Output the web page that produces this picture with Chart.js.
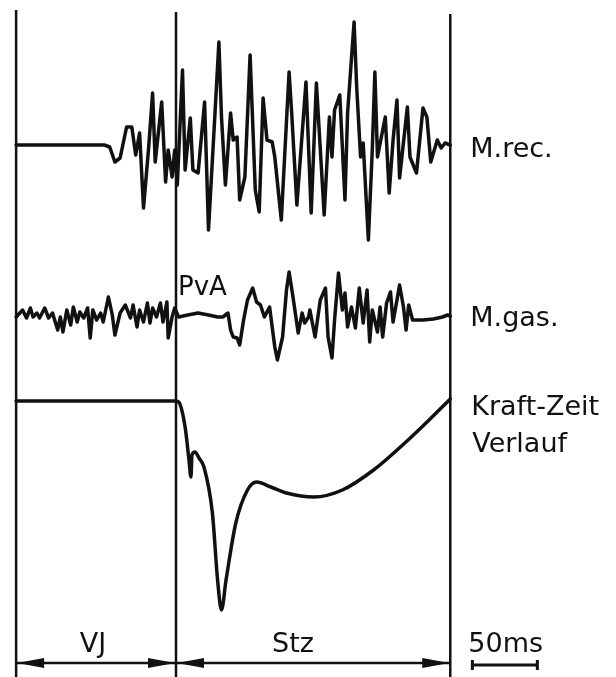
<!DOCTYPE html>
<html lang="de">
<head>
    <meta charset="UTF-8">
    <title>EMG M.rec. / M.gas. und Kraft-Zeit Verlauf</title>
    <script src="https://cdn.jsdelivr.net/npm/chart.js"></script>
    <style>
        html, body { margin: 0; padding: 0; background: #fff; }
        .chart-container { position: relative; width: 616px; height: 677px; }
    </style>
</head>
<body>
    <div class="chart-container">
        <canvas id="emgChart"></canvas>
    </div>

    <script>
        // time in ms, 0 = touchdown (start of Stz); amplitudes relative to each trace's baseline
        const phaseBounds = [-123, 0, 211];
        const phaseLabels = ['VJ', 'Stz'];
        const traceLabels = ['M.rec.', 'M.gas.', 'Kraft-Zeit', 'Verlauf'];
        const scaleBarMs = 50;

        const recTime = [-123, -55, -51, -47, -43, -38, -34, -31, -28, -25, -21, -18, -16, -11, -8,
            -6, -3, -1, 1, 5, 7, 11, 13, 17, 22, 25, 30, 33, 35, 38, 42, 44, 47, 49, 53,
            57, 61, 64, 67, 70, 74, 76, 81, 87, 89, 93, 100, 104, 108, 114, 118, 120, 122, 126, 130,
            132, 137, 139, 142, 144, 148, 151, 153, 155, 161, 164, 167, 170, 172, 178,
            180, 185, 190, 193, 196, 201, 204, 207, 211];
        const recAmp = [0, 0, -2, -17, -13, 18, 18, -10, 12, -63, -2, 52, -17, 43, -37,
            -5, -32, -5, -40, 75, -25, 27, -25, -28, 43, -85, 32, 103, 28, -40, 32, 5, 8, -55, -32,
            90, -45, -67, 47, 5, 3, -12, -75, 73, 32, -60, 63, -68, 62, -70, 28, -12, 35, 50, -55,
            32, 123, 58, -12, 2, -95, -5, 73, -12, 28, -48, 5, 45, -33, 38,
            -12, -28, 37, 28, -17, 5, -3, 2, 0];

        const gasTime = [-123, -118, -115, -112, -110, -107, -105, -101, -98, -95, -91, -89, -87, -84, -81,
            -79, -76, -74, -71, -68, -66, -64, -61, -58, -56, -52, -49, -47, -43, -39,
            -35, -33, -30, -28, -25, -22, -20, -18, -15, -12, -10, -7, -6, -3, -1,
            2, 9, 17, 25, 32, 36, 40, 42, 44, 47, 49, 52, 55, 59, 62,
            65, 68, 72, 76, 78, 82, 85, 87, 90, 94, 97, 99, 102, 103, 107,
            111, 115, 117, 120, 122, 125, 128, 130, 132, 135, 138, 141, 144, 147, 149,
            151, 155, 157, 159, 162, 165, 167, 170, 172, 175, 177, 179, 182, 190, 198,
            205, 209, 211];
        const gasAmp = [0, 7, -1, 9, 0, 4, -1, 9, -1, 4, -13, 0, -15, 7, -8,
            10, -5, 5, -1, 9, -21, 7, -3, 4, -5, 20, 2, -18, 4, 12,
            -1, 12, -10, 7, -5, 14, -6, 9, 0, 14, -5, 15, -21, 0, 9,
            0, 2, 4, 2, 0, 0, 4, -13, -20, -21, -28, -3, 17, 29, 15,
            12, 0, 10, -30, -43, -20, 27, 45, 20, -16, 4, -6, 0, 7, -20,
            17, 29, -20, -41, -3, 44, 7, 24, -10, 10, -11, 29, -6, 27, -25,
            7, -15, 10, -20, 14, 25, -5, 17, 32, 10, -13, 12, -3, -3, -2,
            0, 2, 1];

        const forceTime = [-123, -1, 2, 7, 10, 11.5, 12.3, 14.6, 17.7, 21.5, 28, 32, 35, 38.5, 46,
            55, 62, 73, 85, 106, 128, 152, 176, 197, 211];
        const forceAmp = [0, 0, -1, -26, -59, -76, -54, -51, -57, -66, -112, -179, -209, -179, -122,
            -89, -81, -86, -92, -96, -89, -69, -42, -16, 2];

        // vertical placement of the three traces on the page
        const laneBase = { rec: 532, gas: 360, force: 276 };
        const ink = '#111';
        const font = '27px "DejaVu Sans"';

        function toPoints(times, amps, base) {
            return times.map((t, i) => ({ x: t, y: base + amps[i] }));
        }

        function arrowHead(ctx, tipX, y, dir) {
            ctx.beginPath();
            ctx.moveTo(tipX, y);
            ctx.lineTo(tipX - dir * 27, y - 5);
            ctx.lineTo(tipX - dir * 27, y + 5);
            ctx.closePath();
            ctx.fill();
        }

        const annotations = {
            id: 'annotations',
            afterDatasetsDraw(chart) {
                const ctx = chart.ctx;
                const xs = chart.scales.x;
                const ys = chart.scales.y;
                const area = chart.chartArea;
                const bx = phaseBounds.map(t => xs.getPixelForValue(t));
                const tops = [10, 12, 14];

                ctx.save();
                ctx.strokeStyle = ink;
                ctx.fillStyle = ink;

                // phase boundary lines
                ctx.lineWidth = 2.5;
                bx.forEach((px, i) => {
                    ctx.beginPath();
                    ctx.moveTo(px, tops[i]);
                    ctx.lineTo(px, area.bottom);
                    ctx.stroke();
                });

                // phase arrows
                const arrowY = area.bottom - 14;
                ctx.lineWidth = 2.5;
                for (let i = 0; i < 2; i++) {
                    ctx.beginPath();
                    ctx.moveTo(bx[i], arrowY);
                    ctx.lineTo(bx[i + 1], arrowY);
                    ctx.stroke();
                    arrowHead(ctx, bx[i] + 1, arrowY, -1);
                    arrowHead(ctx, bx[i + 1] - 1, arrowY, 1);
                }

                ctx.font = font;
                ctx.textBaseline = 'alphabetic';
                ctx.textAlign = 'center';
                ctx.fillText(phaseLabels[0], (bx[0] + bx[1]) / 2 - 3, area.bottom - 25);
                ctx.fillText(phaseLabels[1], bx[1] + 117, area.bottom - 25);

                // scale bar
                const sb0 = xs.getPixelForValue(phaseBounds[2] + 17);
                const sb1 = xs.getPixelForValue(phaseBounds[2] + 17 + scaleBarMs);
                const sbY = area.bottom - 12;
                ctx.lineWidth = 3;
                ctx.beginPath();
                ctx.moveTo(sb0, sbY); ctx.lineTo(sb1, sbY);
                ctx.moveTo(sb0, sbY - 5); ctx.lineTo(sb0, sbY + 5);
                ctx.moveTo(sb1, sbY - 5); ctx.lineTo(sb1, sbY + 5);
                ctx.stroke();
                ctx.textAlign = 'left';
                ctx.fillText(scaleBarMs + 'ms', sb0 - 4, area.bottom - 25);

                // trace labels
                const lx = bx[2] + 20;
                ctx.fillText(traceLabels[0], lx, ys.getPixelForValue(laneBase.rec) + 12);
                ctx.fillText(traceLabels[1], lx, ys.getPixelForValue(laneBase.gas) + 9);
                ctx.fillText(traceLabels[2], lx + 1, ys.getPixelForValue(laneBase.force) + 14);
                ctx.fillText(traceLabels[3], lx + 2, ys.getPixelForValue(laneBase.force) + 51);
                ctx.font = '26px "DejaVu Sans"';
                ctx.fillText('PvA', bx[1] + 2, ys.getPixelForValue(laneBase.gas) - 22);
                ctx.restore();
            }
        };

        const ctx = document.getElementById('emgChart').getContext('2d');
        new Chart(ctx, {
            type: 'line',
            data: {
                datasets: [
                    { label: 'M.rec.', data: toPoints(recTime, recAmp, laneBase.rec), tension: 0 },
                    { label: 'M.gas.', data: toPoints(gasTime, gasAmp, laneBase.gas), tension: 0 },
                    { label: 'Kraft-Zeit Verlauf', data: toPoints(forceTime, forceAmp, laneBase.force),
                      cubicInterpolationMode: 'monotone' }
                ]
            },
            options: {
                responsive: true,
                maintainAspectRatio: false,
                animation: false,
                layout: { padding: 0 },
                elements: {
                    point: { radius: 0 },
                    line: { borderColor: ink, borderWidth: 3.5, borderJoinStyle: 'round', borderCapStyle: 'round' }
                },
                scales: {
                    x: { type: 'linear', min: -135.4, max: 338.5, display: false },
                    y: { min: 0, max: 677, display: false }
                },
                plugins: {
                    legend: { display: false },
                    tooltip: { enabled: false }
                }
            },
            plugins: [annotations]
        });
    </script>
</body>
</html>
